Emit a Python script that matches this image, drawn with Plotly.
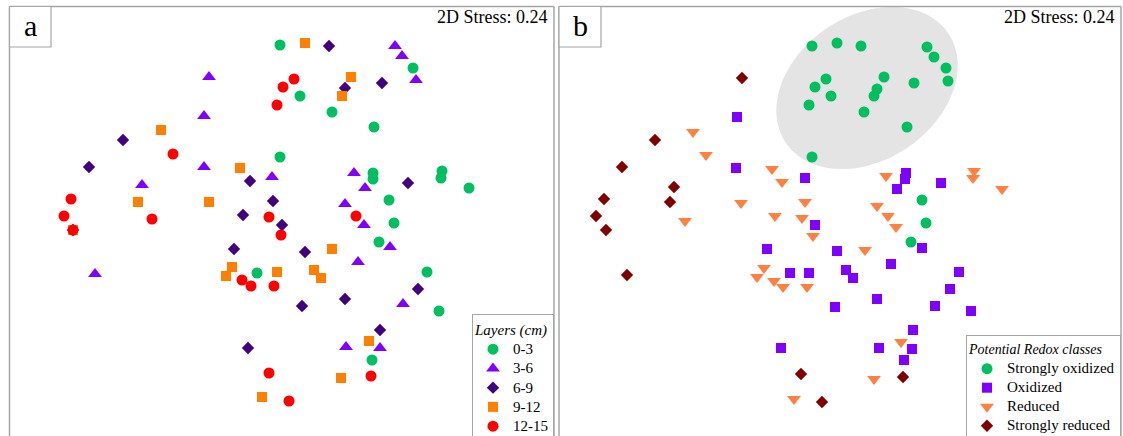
import numpy as np
import plotly.graph_objects as go

W, H = 1123, 436

# ---------------- Panel a : layers (NMDS scores, arbitrary units, y downwards) -------------
a_0_3_x = [280, 413, 300, 332, 374, 280, 373, 373, 442, 441, 469, 389, 394, 379, 257, 427, 439, 372]
a_0_3_y = [45, 68, 96, 112, 127, 157, 173, 179, 171, 178, 188, 200, 223, 242, 273, 272, 311, 360]

a_3_6_x = [209, 204, 204, 272, 142, 395, 402, 416, 354, 365, 345, 364, 390, 358, 403, 346, 380, 95]
a_3_6_y = [77, 116, 167, 177, 185, 46, 56, 80, 173, 188, 204, 225, 247, 262, 304, 347, 348, 274]

a_6_9_x = [123, 89, 250, 273, 243, 329, 382, 345, 408, 282, 234, 305, 345, 302, 418, 380, 248, 73]
a_6_9_y = [140, 167, 181, 201, 215, 46, 83, 88, 183, 225, 249, 252, 299, 306, 289, 330, 348, 230]

a_9_12_x = [161, 240, 138, 209, 305, 351, 342, 332, 232, 226, 277, 314, 321, 369, 341, 262, 73]
a_9_12_y = [130, 168, 202, 202, 43, 77, 96, 249, 267, 276, 272, 270, 278, 341, 378, 397, 230]

a_12_15_x = [71, 64, 152, 173, 294, 283, 277, 269, 281, 356, 242, 251, 274, 269, 371, 289, 73]
a_12_15_y = [199, 216, 219, 154, 79, 87, 105, 217, 235, 216, 280, 286, 286, 373, 376, 401, 230]

layer_names = ["0-3", "3-6", "6-9", "9-12", "12-15"]

# ---------------- Panel b : potential redox classes ----------------
b_so_x = [812, 837, 861, 927, 934, 946, 948, 884, 914, 826, 815, 877, 874, 831, 809, 864, 907, 812, 922, 926, 911]
b_so_y = [46, 43, 46, 47, 57, 68, 81, 77, 83, 79, 87, 89, 96, 96, 105, 112, 127, 157, 200, 223, 242]

b_ox_x = [737, 736, 805, 906, 905, 897, 941, 815, 922, 767, 837, 891, 790, 809, 846, 853, 959, 950, 877, 835,
          935, 971, 913, 781, 879, 912, 904]
b_ox_y = [117, 168, 178, 173, 179, 189, 183, 225, 248, 249, 251, 264, 273, 273, 270, 278, 272, 289, 299, 307,
          306, 311, 330, 348, 348, 349, 360]

b_re_x = [693, 706, 772, 782, 741, 805, 685, 775, 802, 886, 974, 973, 1002, 877, 888, 896, 813, 865, 764, 757,
          774, 783, 807, 901, 874, 794]
b_re_y = [132, 155, 169, 182, 203, 202, 221, 216, 218, 176, 171, 178, 189, 206, 216, 227, 236, 250, 268, 277,
          281, 287, 287, 342, 379, 399]

b_sr_x = [742, 655, 622, 674, 604, 670, 596, 606, 627, 801, 822, 903]
b_sr_y = [78, 140, 167, 187, 199, 202, 216, 230, 275, 374, 402, 377]

redox_names = ["Strongly oxidized", "Oxidized", "Reduced", "Strongly reduced"]

stress_text = "2D Stress: 0.24"

# highlight ellipse around the strongly oxidized group (centre, semi-axes, tilt in degrees)
ell_cx, ell_cy, ell_a, ell_b, ell_deg = 867, 88, 98, 72, 34

SERIF = "Liberation Serif"
FRAME = "#a6a6a6"


def label(txt):
    return f'<span style="font-size:15px">{txt}</span>'


fig = go.Figure()

a_sets = [
    (a_0_3_x, a_0_3_y, "circle", "#00BF60", 11),
    (a_3_6_x, a_3_6_y, "triangle-up", "#8000FF", 12),
    (a_6_9_x, a_6_9_y, "diamond", "#40007F", 9.5),
    (a_9_12_x, a_9_12_y, "square", "#FF8000", 10),
    (a_12_15_x, a_12_15_y, "circle", "#FF0000", 11),
]
for (xs, ys, sym, col, sz), name in zip(a_sets, layer_names):
    fig.add_trace(go.Scatter(
        x=xs, y=ys, mode="markers", name=label(name), xaxis="x", yaxis="y", legend="legend",
        marker=dict(symbol=sym, color=col, size=sz, line=dict(width=0)),
    ))

b_sets = [
    (b_so_x, b_so_y, "circle", "#00BF60", 11),
    (b_ox_x, b_ox_y, "square", "#8000FF", 10),
    (b_re_x, b_re_y, "triangle-down", "#FF8040", 12),
    (b_sr_x, b_sr_y, "diamond", "#800000", 9.5),
]
for (xs, ys, sym, col, sz), name in zip(b_sets, redox_names):
    fig.add_trace(go.Scatter(
        x=xs, y=ys, mode="markers", name=label(name), xaxis="x2", yaxis="y2", legend="legend2",
        marker=dict(symbol=sym, color=col, size=sz, line=dict(width=0)),
    ))

# ellipse path (data coords of panel b, y axis reversed)
t = np.linspace(0, 2 * np.pi, 120)
th = np.deg2rad(ell_deg)
ex = ell_cx + ell_a * np.cos(th) * np.cos(t) - ell_b * np.sin(th) * np.sin(t)
ey = ell_cy - (ell_a * np.sin(th) * np.cos(t) + ell_b * np.cos(th) * np.sin(t))
path = "M " + " L ".join(f"{px:.2f},{py:.2f}" for px, py in zip(ex, ey)) + " Z"

shapes = [dict(type="path", path=path, xref="x2", yref="y2", fillcolor="#e4e4e4",
               line=dict(width=0), layer="below")]


def px2x(p):
    return p / W


def px2y(p):
    return 1 - p / H


# panel frames (left, top, right lines) and label boxes in paper coords
for left, right in [(9.5, 554), (559, 1121)]:
    for (x0, y0, x1, y1) in [(left, 6.5, left, 440), (left, 6.5, right, 6.5), (right, 6.5, right, 440)]:
        shapes.append(dict(type="line", xref="paper", yref="paper",
                           x0=px2x(x0), y0=px2y(y0), x1=px2x(x1), y1=px2y(y1),
                           line=dict(color=FRAME, width=1.5)))

for left, right in [(9.5, 51), (559, 601)]:
    shapes.append(dict(type="rect", xref="paper", yref="paper",
                       x0=px2x(left), y0=px2y(47), x1=px2x(right), y1=px2y(6.5),
                       line=dict(color=FRAME, width=1.2), fillcolor="white"))

annotations = [
    dict(text="a", x=px2x(30), y=px2y(25), xref="paper", yref="paper", showarrow=False,
         font=dict(family=SERIF, size=30, color="black"), xanchor="center", yanchor="middle"),
    dict(text="b", x=px2x(580), y=px2y(25), xref="paper", yref="paper", showarrow=False,
         font=dict(family=SERIF, size=30, color="black"), xanchor="center", yanchor="middle"),
    dict(text=stress_text, x=px2x(550), y=px2y(17), xref="paper", yref="paper", showarrow=False,
         font=dict(family=SERIF, size=18, color="black"), xanchor="right", yanchor="middle"),
    dict(text=stress_text, x=px2x(1117), y=px2y(17), xref="paper", yref="paper", showarrow=False,
         font=dict(family=SERIF, size=18, color="black"), xanchor="right", yanchor="middle"),
]

axis_common = dict(showgrid=False, zeroline=False, showticklabels=False, ticks="", showline=False)

fig.update_layout(
    width=W, height=H,
    margin=dict(l=0, r=0, t=0, b=0, autoexpand=False),
    paper_bgcolor="white", plot_bgcolor="rgba(0,0,0,0)",
    font=dict(family=SERIF, color="black"),
    xaxis=dict(domain=[px2x(9.5), px2x(554)], range=[9.5, 554], anchor="y", **axis_common),
    yaxis=dict(domain=[0, px2y(6.5)], range=[436, 6.5], anchor="x", **axis_common),
    xaxis2=dict(domain=[px2x(559), px2x(1121)], range=[559, 1121], anchor="y2", **axis_common),
    yaxis2=dict(domain=[0, px2y(6.5)], range=[436, 6.5], anchor="x2", **axis_common),
    shapes=shapes,
    annotations=annotations,
    legend=dict(
        title=dict(text="<i>Layers (cm)</i>", font=dict(family=SERIF, size=15)),
        font=dict(family=SERIF, size=12.5, color="black"),
        x=px2x(554), xanchor="right", y=px2y(314), yanchor="top",
        bgcolor="white", bordercolor=FRAME, borderwidth=1, itemclick=False,
    ),
    legend2=dict(
        title=dict(text="<i>Potential Redox classes</i>", font=dict(family=SERIF, size=14)),
        font=dict(family=SERIF, size=12, color="black"),
        x=px2x(1121), xanchor="right", y=px2y(335), yanchor="top",
        bgcolor="white", bordercolor=FRAME, borderwidth=1, itemclick=False,
    ),
    showlegend=True,
)

fig.write_html("out.html")
